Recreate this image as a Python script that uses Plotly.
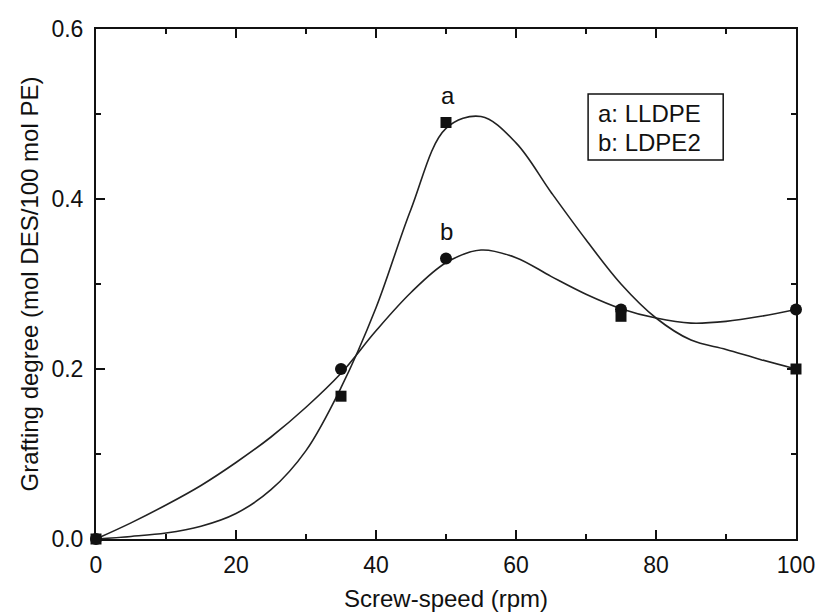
import plotly.graph_objects as go

# Measured points
speed = [0, 35, 50, 75, 100]
lldpe = [0.0, 0.168, 0.49, 0.262, 0.20]          # a: squares
ldpe2 = [0.0, 0.20, 0.33, 0.27, 0.27]            # b: circles

# Smooth fitted curves
curve_x = [0, 5, 10, 15, 20, 25, 30, 35, 40, 45, 50, 55, 60, 65, 70, 75, 80, 85, 90, 95, 100]
curve_a_y = [0.0, 0.003, 0.007, 0.015, 0.03, 0.058, 0.104, 0.178, 0.272, 0.388, 0.483, 0.497,
             0.466, 0.408, 0.352, 0.300, 0.260, 0.234, 0.223, 0.211, 0.200]
curve_b_y = [0.0, 0.019, 0.04, 0.063, 0.09, 0.12, 0.155, 0.195, 0.245, 0.29, 0.325, 0.34,
             0.331, 0.309, 0.288, 0.271, 0.26, 0.254, 0.256, 0.262, 0.27]

x_ticks = [0, 20, 40, 60, 80, 100]
y_ticks = [0.0, 0.2, 0.4, 0.6]

FONT = "Liberation Sans, Arial, sans-serif"

fig = go.Figure()
for cy in (curve_a_y, curve_b_y):
    fig.add_trace(go.Scatter(x=curve_x, y=cy, mode="lines",
                             line=dict(color="#222", width=1.6, shape="spline", smoothing=1.0),
                             showlegend=False, hoverinfo="skip", cliponaxis=False))
fig.add_trace(go.Scatter(x=speed, y=ldpe2, mode="markers",
                         marker=dict(symbol="circle", size=12, color="#111"),
                         showlegend=False, cliponaxis=False))
fig.add_trace(go.Scatter(x=speed, y=lldpe, mode="markers",
                         marker=dict(symbol="square", size=11, color="#111"),
                         showlegend=False, cliponaxis=False))

axis_common = dict(showgrid=False, zeroline=False, showline=True, linecolor="#111",
                   linewidth=2, mirror="allticks", ticks="inside", ticklen=9,
                   tickwidth=1.5, tickcolor="#111",
                   tickfont=dict(family=FONT, size=23, color="#111"))

fig.update_xaxes(range=[0, 100], tickvals=x_ticks, ticktext=[str(v) for v in x_ticks],
                 minor=dict(dtick=10, ticks="inside", ticklen=5, tickwidth=1.5, tickcolor="#111"),
                 title=dict(text="Screw-speed (rpm)", font=dict(family=FONT, size=24, color="#111"), standoff=14),
                 ticklabelstandoff=4,
                 **axis_common)
fig.update_yaxes(range=[0, 0.6], tickvals=y_ticks, ticktext=[f"{v:.1f}" for v in y_ticks],
                 minor=dict(dtick=0.1, ticks="inside", ticklen=5, tickwidth=1.5, tickcolor="#111"),
                 title=dict(text="Grafting degree (mol DES/100 mol PE)", font=dict(family=FONT, size=24, color="#111"), standoff=6),
                 ticklabelstandoff=6,
                 **axis_common)

# Curve labels
fig.add_annotation(x=50.3, y=0.522, text="a", showarrow=False,
                   font=dict(family=FONT, size=24, color="#111"))
fig.add_annotation(x=50.1, y=0.362, text="b", showarrow=False,
                   font=dict(family=FONT, size=24, color="#111"))

# Legend box
fig.add_shape(type="rect", x0=70.3, x1=89.6, y0=0.446, y1=0.5235,
              line=dict(color="#111", width=1.5), fillcolor="white")
fig.add_annotation(x=71.4, y=0.501, text="a: LLDPE", showarrow=False, xanchor="left",
                   font=dict(family=FONT, size=24, color="#111"))
fig.add_annotation(x=71.4, y=0.466, text="b: LDPE2", showarrow=False, xanchor="left",
                   font=dict(family=FONT, size=24, color="#111"))

fig.update_layout(width=819, height=613, paper_bgcolor="white", plot_bgcolor="white",
                  margin=dict(l=96, r=23, t=29, b=74, autoexpand=False),
                  showlegend=False)

fig.write_html("out.html")
